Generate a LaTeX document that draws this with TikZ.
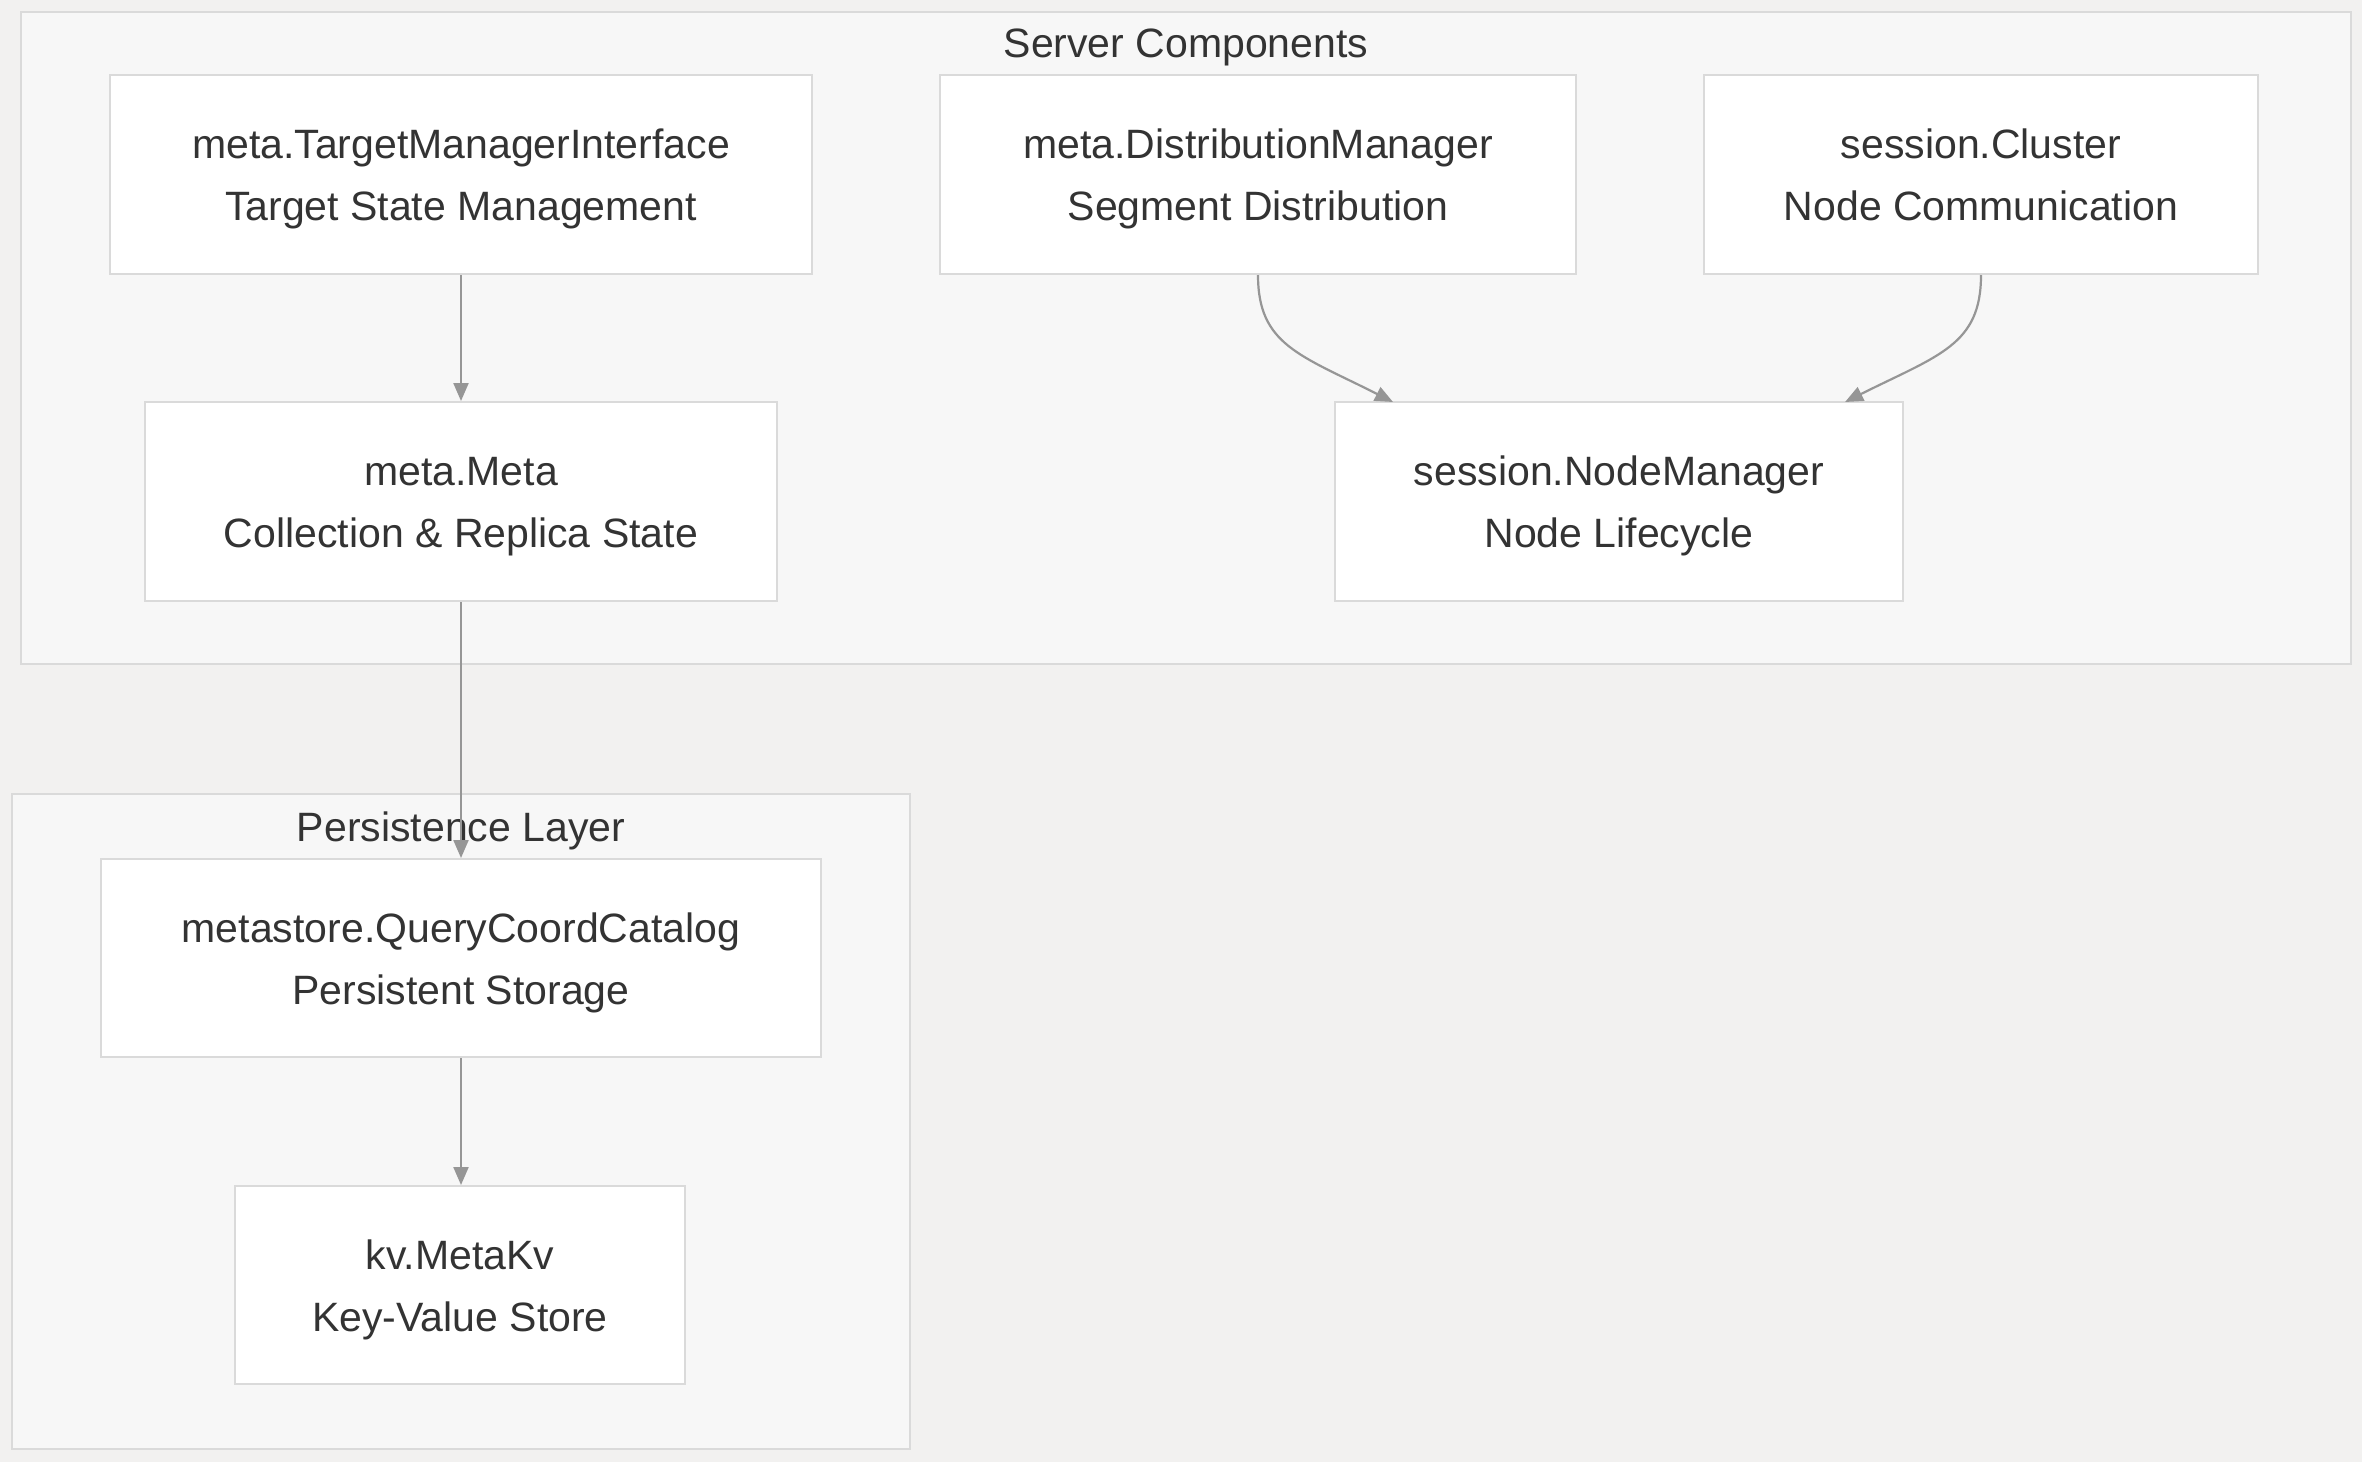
\documentclass[tikz,border=0pt]{standalone}
\usepackage{fontspec}
\setmainfont{Liberation Sans}
\usetikzlibrary{arrows.meta}
\definecolor{bgc}{RGB}{242,241,240}
\definecolor{clfill}{RGB}{247,247,247}
\definecolor{bord}{RGB}{218,218,218}
\definecolor{txt}{RGB}{51,51,51}
\definecolor{edge}{RGB}{150,150,150}
\tikzset{
  box/.style={draw=bord, line width=1pt, fill=white, text=txt, align=center,
    font=\fontsize{20.5}{31}\selectfont, inner sep=0pt, text height=50pt, text depth=4pt},
  cluster/.style={draw=bord, line width=1pt, fill=clfill},
  title/.style={text=txt, font=\fontsize{20.5}{31}\selectfont, inner sep=0pt},
  conn/.style={draw=edge, line width=1.1pt, -{Triangle[length=9pt,width=7.5pt]}},
}
\begin{document}
\begin{tikzpicture}[x=0.5pt,y=-0.5pt]
\useasboundingbox (0,0) rectangle (2362,1462);
\fill[bgc] (0,0) rectangle (2362,1462);
% clusters
\path[cluster] (21,12) rectangle (2351,664);
\path[cluster] (12,794) rectangle (910,1449);
\node[title] (t1) at (1186,47) {Server Components};
\node[title] (t2) at (461,831) {Persistence Layer};
% nodes
\node[box, minimum width=351pt, minimum height=99.5pt] (tmi) at (461,174.5) {meta.TargetManagerInterface\\Target State Management};
\node[box, minimum width=316pt, minimum height=99.5pt] (meta) at (461,501.5) {meta.Meta\\Collection \& Replica State};
\node[box, minimum width=318pt, minimum height=99.5pt] (dm) at (1258,174.5) {meta.DistributionManager\\Segment Distribution};
\node[box, minimum width=277pt, minimum height=99.5pt] (cl) at (1981,174.5) {session.Cluster\\Node Communication};
\node[box, minimum width=284pt, minimum height=99.5pt] (nm) at (1619,501.5) {session.NodeManager\\Node Lifecycle};
\node[box, minimum width=360pt, minimum height=99pt] (qcc) at (461,958) {metastore.QueryCoordCatalog\\Persistent Storage};
\node[box, minimum width=225pt, minimum height=99pt] (kv) at (460,1285) {kv.MetaKv\\Key-Value Store};
\coordinate (nmA) at (1393,402);
\coordinate (nmB) at (1845,402);
% edges
\draw[conn] (tmi.south) -- (meta.north);
\draw[conn] (meta.south) -- (qcc.north);
\draw[conn] (qcc.south) -- (kv.north -| qcc.south);
\draw[conn] (dm.south) .. controls (1258,345) and (1300,355) .. (nmA);
\draw[conn] (cl.south) .. controls (1981,345) and (1939,355) .. (nmB);
\end{tikzpicture}
\end{document}
